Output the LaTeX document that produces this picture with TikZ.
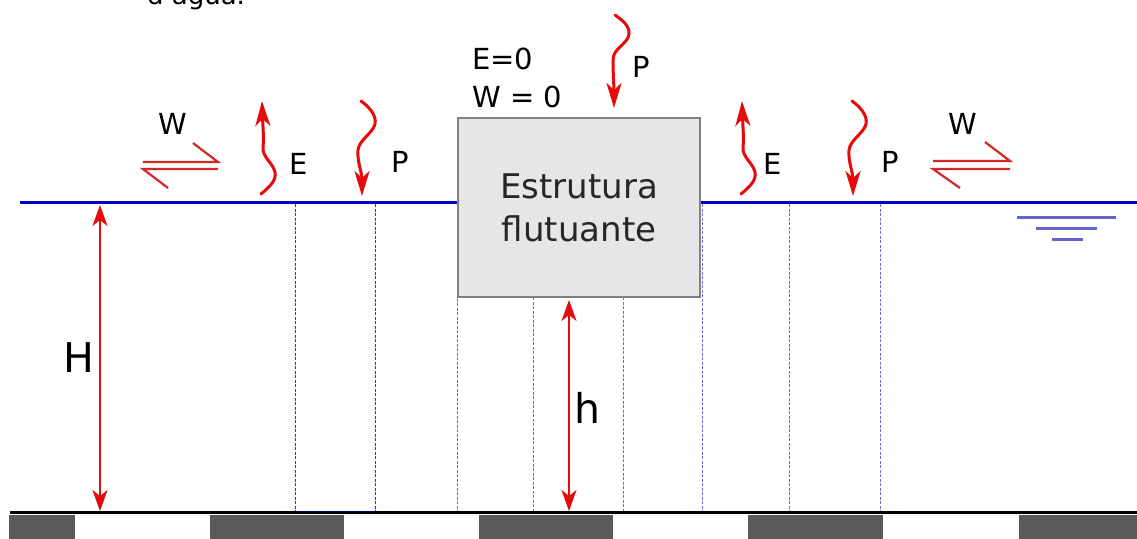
\documentclass[tikz,border=0pt]{standalone}
\usepackage{fontspec}
\setmainfont{DejaVu Sans}
\usetikzlibrary{arrows.meta}
\definecolor{wred}{RGB}{232,10,10}
\definecolor{hred}{RGB}{212,40,40}
\definecolor{water}{RGB}{0,0,200}
\definecolor{dashc}{RGB}{50,50,160}
\definecolor{dashl}{RGB}{110,110,210}
\definecolor{levelc}{RGB}{100,100,205}
\definecolor{boxfill}{RGB}{230,230,230}
\definecolor{boxline}{RGB}{128,128,128}
\definecolor{ground}{RGB}{90,90,90}
\tikzset{
  wavearrow/.style={draw=wred, line width=3pt, line cap=round, -{Stealth[length=25pt,width=15pt,inset=7pt]}},
  dimarrow/.style={draw=wred, line width=2.4pt, {Stealth[length=21pt,width=15pt,inset=6pt]}-{Stealth[length=21pt,width=15pt,inset=6pt]}},
  harp/.style={draw=hred, line width=2.2pt},
  lbl/.style={font=\fontsize{29}{34}\selectfont, inner sep=0pt},
  biglbl/.style={font=\fontsize{41}{48}\selectfont, inner sep=0pt},
  dashv/.style={draw=dashc, line width=1pt, dash pattern=on 3pt off 1.5pt},
  dashlite/.style={draw=dashl, line width=0.9pt, dash pattern=on 3pt off 1.5pt},
  waterline/.style={draw=water, line width=3pt},
  levelline/.style={draw=levelc, line width=3pt},
  boxstyle/.style={draw=boxline, fill=boxfill, line width=1.2pt, minimum width=242pt, minimum height=179pt, align=center, inner sep=0pt, font=\fontsize{34}{43}\selectfont, text=black!85},
}
\begin{document}
\begin{tikzpicture}[x=1pt,y=-1pt]
\useasboundingbox (0,0) rectangle (1137,538);
\clip (0,0) rectangle (1137,538);
\fill[white] (0,0) rectangle (1137,538);

% cut-off caption at top
\node[lbl, font=\fontsize{26}{30}\selectfont, anchor=base] (cap) at (196,5) {d'água.};

% ground
\foreach \a/\b in {9/75,210/344,479/613,748/883,1019/1140}
  \fill[ground] (\a,515) rectangle (\b,540);
\draw[black, line width=3pt] (10,512.5) -- (1137,512.5);
\draw[water!60!black, line width=1.5pt] (295,511.5) -- (375,511.5);

% dashed verticals
\draw[dashv] (295,204) -- (295,511);
\draw[dashv] (375,204) -- (375,511);
\draw[dashlite] (457,204) -- (457,511);
\draw[dashlite] (533,297) -- (533,511);
\draw[dashlite] (623,297) -- (623,511);
\draw[dashlite] (702,204) -- (702,511);
\draw[dashlite] (789,204) -- (789,511);
\draw[dashlite] (880,204) -- (880,511);

% water line
\draw[waterline] (20,202) -- (458,202);
\draw[waterline] (700,202) -- (1137,202);

% water level symbol
\draw[levelline] (1017,217) -- (1116,217);
\draw[levelline] (1036,228) -- (1097,228);
\draw[levelline] (1052,239) -- (1083,239);

% floating structure
\node[boxstyle] (box) at (579,207.5) {Estrutura\\flutuante};

% dimension arrows
\coordinate (Htop) at (100,205);
\coordinate (Hbot) at (100,511);
\draw[dimarrow] (Htop) -- (Hbot);
\node[biglbl] (H) at (79,358) {H};
\coordinate (htop) at (569,300);
\coordinate (hbot) at (569,511);
\draw[dimarrow] (htop) -- (hbot);
\node[biglbl] (h) at (587,408) {h};

% wavy E arrows (upward)
\foreach \dx in {0,480}{
  \begin{scope}[xshift=\dx]
  \draw[wavearrow] (261,194) .. controls (268,188) and (277,181) .. (275,172)
     .. controls (273,163) and (262,157) .. (263,147)
     .. controls (264,138) and (263,130) .. (262,101);
  \end{scope}
}
% wavy P arrows (downward)
\foreach \dx in {0,491}{
  \begin{scope}[xshift=\dx]
  \draw[wavearrow] (361,101) .. controls (368,106) and (377,115) .. (375,124)
     .. controls (373,133) and (359,140) .. (358,150)
     .. controls (357,162) and (362,172) .. (362,196);
  \end{scope}
}
\draw[wavearrow] (615,15) .. controls (622,20) and (630,26) .. (629,34)
     .. controls (628,44) and (613,48) .. (613,60)
     .. controls (613,75) and (614,85) .. (614,108);

% harpoons W
\draw[harp] (143,162) -- (218,162) -- (193,143);
\draw[harp] (218,169) -- (143,169) -- (168,188);
\draw[harp] (933,161) -- (1010,161) -- (985,142);
\draw[harp] (1010,169) -- (933,169) -- (960,188);

% labels
\node[lbl] (W1) at (173,124) {W};
\node[lbl] (E1) at (299,164) {E};
\node[lbl] (P1) at (400,162) {P};
\node[lbl] (E2) at (773,164) {E};
\node[lbl] (P2) at (890,162) {P};
\node[lbl] (W2) at (963,124) {W};
\node[lbl] (P3) at (641,67) {P};
\node[lbl, anchor=base west] (E0) at (472,69) {E=0};
\node[lbl, anchor=base west] (W0) at (472,107) {W = 0};
\end{tikzpicture}
\end{document}
